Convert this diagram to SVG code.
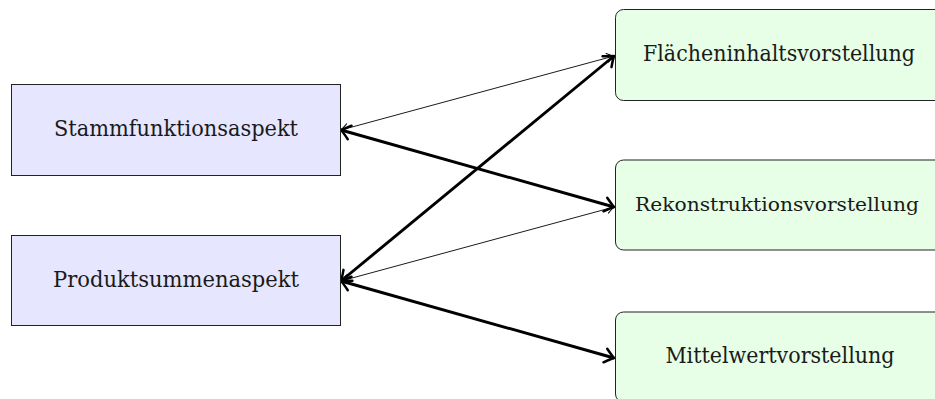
<svg xmlns="http://www.w3.org/2000/svg" width="935" height="399" viewBox="0 0 935 399">
<style>
.aspect { fill: #e6e6ff; stroke: #222; stroke-width: 1; }
.vorst { fill: #e6ffe6; stroke: #222; stroke-width: 1; }
.lbl { font-family: "DejaVu Serif", serif; font-size: 22px; fill: #1a1a1a; text-anchor: middle; }
.lbl.small { font-size: 19px; }
.thin { stroke: #000; stroke-width: 0.9; fill: none; marker-start: url(#arrThin); marker-end: url(#arrThin); }
.thick { stroke: #000; stroke-width: 2.9; fill: none; marker-start: url(#arrThick); marker-end: url(#arrThick); }
</style>
<defs>
<marker id="arrThin" viewBox="-10 -6 12 12" refX="0" refY="0" markerWidth="12" markerHeight="12" markerUnits="userSpaceOnUse" orient="auto-start-reverse">
<path d="M -7,-4.5 Q -2,-1 0,0 Q -2,1 -7,4.5" fill="none" stroke="#000" stroke-width="1" stroke-linecap="round"/>
</marker>
<marker id="arrThick" viewBox="-12 -9 14 18" refX="0" refY="0" markerWidth="14" markerHeight="18" markerUnits="userSpaceOnUse" orient="auto-start-reverse">
<path d="M -9,-7 Q -2.5,-1.5 0,0 Q -2.5,1.5 -9,7" fill="none" stroke="#000" stroke-width="2.5" stroke-linecap="round" stroke-linejoin="round"/>
</marker>
</defs>
<g id="connectors">
<line class="thin" x1="341" y1="130" x2="614" y2="56"/>
<line class="thick" x1="341" y1="130" x2="614" y2="207"/>
<line class="thick" x1="341" y1="281" x2="614" y2="56"/>
<line class="thin" x1="341" y1="281" x2="614" y2="207"/>
<line class="thick" x1="341" y1="281" x2="614" y2="358"/>
</g>
<g id="stammfunktionsaspekt">
<rect class="aspect" x="11.5" y="84.5" width="329" height="91"/>
<text class="lbl" x="176" y="136" textLength="244" lengthAdjust="spacingAndGlyphs">Stammfunktionsaspekt</text>
</g>
<g id="produktsummenaspekt">
<rect class="aspect" x="11.5" y="235.5" width="329" height="90"/>
<text class="lbl" x="176" y="287" textLength="246" lengthAdjust="spacingAndGlyphs">Produktsummenaspekt</text>
</g>
<g id="flaecheninhaltsvorstellung">
<rect class="vorst" x="615.5" y="9.5" width="329" height="91" rx="8"/>
<text class="lbl" x="779" y="61" textLength="272" lengthAdjust="spacingAndGlyphs">Flächeninhaltsvorstellung</text>
</g>
<g id="rekonstruktionsvorstellung">
<rect class="vorst" x="615.5" y="160" width="329" height="90" rx="8"/>
<text class="lbl small" x="777" y="211" textLength="284" lengthAdjust="spacingAndGlyphs">Rekonstruktionsvorstellung</text>
</g>
<g id="mittelwertvorstellung">
<rect class="vorst" x="615.5" y="312" width="329" height="90" rx="8"/>
<text class="lbl" x="780" y="363" textLength="229" lengthAdjust="spacingAndGlyphs">Mittelwertvorstellung</text>
</g>
</svg>
